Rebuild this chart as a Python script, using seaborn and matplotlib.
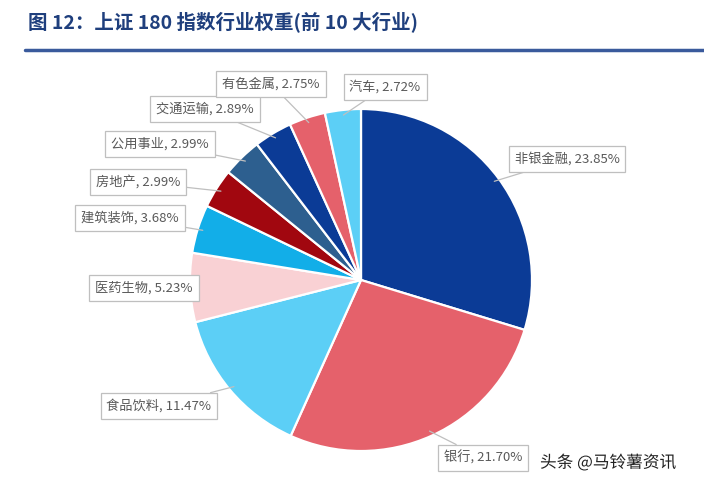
import numpy as np
import matplotlib
matplotlib.use("Agg")
import matplotlib.pyplot as plt
import matplotlib.patheffects as pe
import seaborn as sns

# top 10 industry weights of SSE 180, clockwise from 12 o'clock
industries = ["非银金融", "银行", "食品饮料", "医药生物", "建筑装饰",
              "房地产", "公用事业", "交通运输", "有色金属", "汽车"]
weights = [23.85, 21.70, 11.47, 5.23, 3.68, 2.99, 2.99, 2.89, 2.75, 2.72]
colors = ["#0b3b96", "#e5616b", "#5ccff6", "#f9d1d4", "#12aee8",
          "#a1070f", "#2d5f8f", "#0b3b96", "#e5616b", "#5ccff6"]

# label box centres in pixel coords (x, y from top)
label_pos = [(567, 159), (483, 458), (159, 406), (144, 288), (130, 218),
             (138, 182), (160, 144), (205, 109), (271, 84), (385, 87)]

W, H = 704, 487
sns.set_theme(style="white")
plt.rcParams["font.family"] = ["Noto Sans CJK SC", "DejaVu Sans"]

fig = plt.figure(figsize=(W / 100, H / 100), dpi=100)
ax = fig.add_axes([0, 0, 1, 1])

cx, cy, r = 361, H - 280, 171
wedges, _ = ax.pie(weights, colors=colors, startangle=90, counterclock=False,
                   center=(cx, cy), radius=r, frame=True,
                   wedgeprops=dict(edgecolor="white", linewidth=1.6))
ax.set_xlim(0, W)
ax.set_ylim(0, H)
ax.set_aspect("equal")
ax.axis("off")

for w, name, val, (lx, ly) in zip(wedges, industries, weights, label_pos):
    ang = np.deg2rad((w.theta1 + w.theta2) / 2)
    px = cx + r * 0.97 * np.cos(ang)
    py = cy + r * 0.97 * np.sin(ang)
    ax.annotate(f"{name}, {val:.2f}%", xy=(px, py), xytext=(lx, H - ly),
                ha="center", va="center", fontsize=9.5, color="#595959",
                bbox=dict(boxstyle="square,pad=0.45", fc="white", ec="#bfbfbf", lw=0.9),
                arrowprops=dict(arrowstyle="-", color="#bfbfbf", lw=0.9,
                                shrinkA=0, shrinkB=0))

fig.text(28 / W, 1 - 22 / H, "图 12：上证 180 指数行业权重(前 10 大行业)",
         fontsize=14, fontweight="bold", color="#1f3f7d", va="center", ha="left")
fig.add_artist(plt.Line2D([25 / W, 1], [1 - 50 / H, 1 - 50 / H],
                          color="#3a5a9c", lw=2.5, transform=fig.transFigure))

fig.text(540 / W, 1 - 463 / H, "头条 @马铃薯资讯", fontsize=12, color="#222222",
         fontweight="medium", va="center", ha="left",
         path_effects=[pe.withStroke(linewidth=2.5, foreground="white")])

fig.savefig("out.png", dpi=100, facecolor="white")
